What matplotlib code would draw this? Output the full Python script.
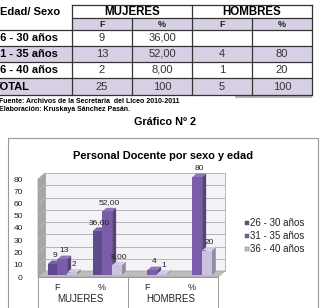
import matplotlib
matplotlib.use('Agg')
import matplotlib.pyplot as plt
from matplotlib.patches import Rectangle, Polygon
import matplotlib.colors as mcolors
import numpy as np

plt.rcParams['font.family'] = ['Liberation Sans', 'DejaVu Sans']

# table data
row_labels = ['26 - 30 años', '31 - 35 años', '36 - 40 años', 'TOTAL']
muj_f = ['9', '13', '2', '25']
muj_p = ['36,00', '52,00', '8,00', '100']
hom_f = ['', '4', '1', '5']
hom_p = ['', '80', '20', '100']

# chart data
categories = ['F', '%', 'F', '%']
groups = ['MUJERES', 'HOMBRES']
series_names = ['26 - 30 años', '31 - 35 años', '36 - 40 años']
s_26_30 = [9, 36, 0, 0]
s_31_35 = [13, 52, 4, 80]
s_36_40 = [2, 8, 1, 20]
lab_26_30 = ['9', '36,00', '', '']
lab_31_35 = ['13', '52,00', '4', '80']
lab_36_40 = ['2', '8,00', '1', '20']
colors = ['#5e4a8c', '#7a5cab', '#cbc2e0']

W, H = 325, 308
fig = plt.figure(figsize=(W / 100, H / 100), dpi=100)

# page layer in pixel coordinates
bg = fig.add_axes([0, 0, 1, 1])
bg.set_xlim(0, W)
bg.set_ylim(H, 0)
bg.axis('off')

shade = '#d7d0e5'
lc = '#333333'
# shaded rows
bg.add_patch(Rectangle((72, 18), 240, 12, color=shade, lw=0))
bg.add_patch(Rectangle((0, 46), 312, 16, color=shade, lw=0))
bg.add_patch(Rectangle((0, 78), 312, 17, color=shade, lw=0))
bg.add_patch(Rectangle((235, 95), 77, 3, color='#b5b5b5', lw=0))
# table lines
bg.plot([72, 312], [5, 5], color=lc, lw=0.9)
bg.plot([72, 312], [18, 18], color=lc, lw=0.9)
for y in [30, 46, 62, 78, 95]:
    bg.plot([0, 312], [y, y], color=lc, lw=0.9)
for x in [72, 192, 312]:
    bg.plot([x, x], [5, 95], color=lc, lw=0.9)
for x in [132, 252]:
    bg.plot([x, x], [18, 95], color=lc, lw=0.9)

fs = 8
bg.text(0.5, 12, 'Edad/ Sexo', fontsize=fs, fontweight='bold', va='center', ha='left')
bg.text(132, 12, 'MUJERES', fontsize=8.3, fontweight='bold', va='center', ha='center')
bg.text(252, 12, 'HOMBRES', fontsize=8.3, fontweight='bold', va='center', ha='center')
for cx, t in zip([102, 162, 222, 282], ['F', '%', 'F', '%']):
    bg.text(cx, 24.5, t, fontsize=6.5, fontweight='bold', va='center', ha='center', color='#222222')
row_y = [38, 54, 70, 86.5]
for i, y in enumerate(row_y):
    bg.text(-6.5, y, row_labels[i], fontsize=fs, fontweight='bold', va='center', ha='left')
    for cx, col in zip([102, 162, 222, 282], [muj_f, muj_p, hom_f, hom_p]):
        bg.text(cx, y, col[i], fontsize=fs, va='center', ha='center', color='#333333')

bg.text(-1, 101.5, 'Fuente: Archivos de la Secretaria  del Liceo 2010-2011',
        fontsize=5, fontweight='bold', va='center', ha='left')
bg.text(-1, 109.5, 'Elaboración: Kruskaya Sánchez Pasán.',
        fontsize=5, fontweight='bold', va='center', ha='left')
bg.text(165, 122, 'Gráfico Nº 2', fontsize=7.8, fontweight='bold', va='center', ha='center')

# chart frame
bg.add_patch(Rectangle((8, 138), 310, 190, fill=False, ec='#9a9a9a', lw=0.8))
bg.text(163, 156, 'Personal Docente por sexo y edad', fontsize=7.9,
        fontweight='bold', va='center', ha='center')

# legend
for i, name in enumerate(series_names):
    y = 223 + i * 13
    bg.add_patch(Rectangle((245, y - 2), 4, 4, fc=colors[i], ec='#555555', lw=0.3))
    bg.text(250.5, y, name, fontsize=7, va='center', ha='left', color='#222222')

# plot area (front plane)
ax = fig.add_axes([38 / W, (H - 277) / H, 180 / W, 98 / H])
ax.set_xlim(-0.5, 3.5)
ax.set_ylim(0, 80)
ax.patch.set_alpha(0)
for s in ax.spines.values():
    s.set_visible(False)
ax.set_xticks([])
ax.set_yticks(range(0, 81, 10))
ax.tick_params(axis='y', length=0, pad=11, labelsize=6, labelcolor='#222222')

px_x = 4 / 180.0
px_y = 80 / 98.0
DX, DY = 7 * px_x, 6 * px_y

# walls and floor
ax.add_patch(Polygon([(-0.5 + DX, DY), (3.5 + DX, DY), (3.5 + DX, 80 + DY), (-0.5 + DX, 80 + DY)],
                     closed=True, fc='#f3f3f7', ec='#b0b0b0', lw=0.6, clip_on=False, zorder=1))
for v in range(10, 81, 10):
    ax.plot([-0.5 + DX, 3.5 + DX], [v + DY, v + DY], color='#b4b4bc', lw=0.7, clip_on=False, zorder=1.5)
    ax.plot([-0.5, -0.5 + DX], [v, v + DY], color='#c4c4c4', lw=0.4, clip_on=False, zorder=1.6)
ax.add_patch(Polygon([(-0.5, 0), (-0.5 + DX, DY), (-0.5 + DX, 80 + DY), (-0.5, 80)],
                     closed=True, fc='#a6a6a6', ec='#9a9a9a', lw=0.5, clip_on=False, zorder=1.4))
ax.add_patch(Polygon([(-0.5, 0), (3.5, 0), (3.5 + DX, DY), (-0.5 + DX, DY)],
                     closed=True, fc='#bdbdbd', ec='#a0a0a0', lw=0.5, clip_on=False, zorder=1.7))

# bars with fake depth
bw = 0.215
bdx, bdy = 4 * px_x, 3.5 * px_y
base = 2 * px_y
x = np.arange(len(categories))
series = [s_26_30, s_31_35, s_36_40]
labels = [lab_26_30, lab_31_35, lab_36_40]


def shade_color(c, f):
    r, g, b = mcolors.to_rgb(c)
    return (r * f, g * f, b * f)


def tint_color(c, f):
    r, g, b = mcolors.to_rgb(c)
    return (r + (1 - r) * f, g + (1 - g) * f, b + (1 - b) * f)


for k, (vals, labs) in enumerate(zip(series, labels)):
    c = colors[k]
    xc = x + (k - 1) * bw + 0.04
    for xi, v in zip(xc, vals):
        if v <= 0:
            continue
        x0 = xi - bw / 2
        x1 = xi + bw / 2
        z = 3 + k * 0.1
        ax.add_patch(Polygon([(x1, base), (x1 + bdx, base + bdy), (x1 + bdx, base + v + bdy), (x1, base + v)],
                             closed=True, fc=shade_color(c, 0.72), ec='none', clip_on=False, zorder=z))
        ax.add_patch(Polygon([(x0, base + v), (x1, base + v), (x1 + bdx, base + v + bdy), (x0 + bdx, base + v + bdy)],
                             closed=True, fc=tint_color(c, 0.15), ec='none', clip_on=False, zorder=z))
    ax.bar(xc, vals, width=bw, bottom=base, color=c, zorder=3.5 + k * 0.1, clip_on=False)
    for xi, v, lab in zip(xc, vals, labs):
        if lab:
            ax.annotate(lab, xy=(xi, base + v + bdy), xytext=(1.5, 1), textcoords='offset points',
                        ha='center', va='bottom', fontsize=6, color='#222222', annotation_clip=False, zorder=6)

# category axis
ax.plot([-0.5, 3.5], [0, 0], color='#8c8c8c', lw=0.6, clip_on=False, zorder=2)
for xv in [-0.5, 1.5, 3.5]:
    ax.plot([xv, xv], [0, -40], color='#9a9a9a', lw=0.7, clip_on=False, zorder=2)
for xi, cat in zip(x, categories):
    ax.text(xi - 0.08, -10.5 * px_y, cat, fontsize=6.5, ha='center', va='center', color='#222222')
for gi, g in enumerate(groups):
    ax.text(2 * gi + 0.5 - 0.05, -21.5 * px_y, g, fontsize=7, ha='center', va='center', color='#222222')

fig.savefig('out.png', dpi=100)
